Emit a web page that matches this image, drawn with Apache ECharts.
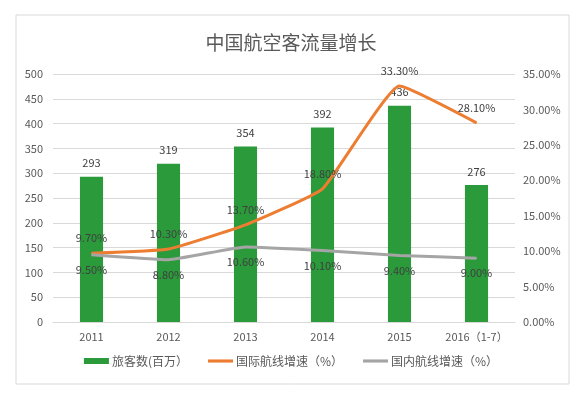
<!DOCTYPE html>
<html>
<head>
<meta charset="utf-8">
<script src="https://cdn.jsdelivr.net/npm/echarts@6/dist/echarts.min.js"></script>
<style>
  html, body { margin: 0; padding: 0; background: #fff; }
  #main { width: 582px; height: 398px; }
</style>
</head>
<body>
<div id="main"></div>
<script>
  // data
  var years = ['2011', '2012', '2013', '2014', '2015', '2016（1-7）'];
  var passengers = [293, 319, 354, 392, 436, 276];
  var intlGrowth = [9.7, 10.3, 13.7, 18.8, 33.3, 28.1];
  var domGrowth = [9.5, 8.8, 10.6, 10.1, 9.4, 9.0];

  var font = '"Noto Sans CJK SC", "Microsoft YaHei", sans-serif';
  var textColor = '#595959';
  var lineIcon = 'path://M0,0 H24 V3 H0 Z';

  var myChart = echarts.init(document.getElementById('main'));

  var pct = function (v) { return Number(v).toFixed(2) + '%'; };

  var option = {
    backgroundColor: '#fff',
    textStyle: { fontFamily: font },
    title: {
      text: '中国航空客流量增长',
      left: 'center',
      top: 28,
      textStyle: { fontFamily: font, fontSize: 19, fontWeight: 'normal', color: textColor }
    },
    graphic: [{
      type: 'rect',
      shape: { x: 16, y: 15, width: 553, height: 369 },
      style: { fill: 'none', stroke: '#d9d9d9', lineWidth: 1 },
      silent: true,
      z: -1
    }],
    legend: {
      bottom: 26,
      left: 'center',
      itemGap: 20,
      itemWidth: 25,
      itemHeight: 6,
      symbolKeepAspect: true,
      textStyle: { fontFamily: font, fontSize: 12, color: textColor, padding: [0, 0, 0, -2] },
      data: [
        { name: '旅客数(百万）', icon: 'rect' },
        { name: '国际航线增速（%）', icon: lineIcon },
        { name: '国内航线增速（%）', icon: lineIcon }
      ]
    },
    grid: { left: 53, right: 67, top: 74, bottom: 76 },
    xAxis: {
      type: 'category',
      data: years,
      axisTick: { show: false },
      axisLine: { lineStyle: { color: '#d9d9d9' } },
      axisLabel: { color: textColor, fontSize: 11, margin: 9, interval: 0 }
    },
    yAxis: [
      {
        type: 'value',
        min: 0, max: 500, interval: 50,
        axisLine: { show: false },
        axisTick: { show: false },
        axisLabel: { color: textColor, fontSize: 11, margin: 10 },
        splitLine: { lineStyle: { color: '#d9d9d9' } }
      },
      {
        type: 'value',
        min: 0, max: 35, interval: 5,
        axisLine: { show: false },
        axisTick: { show: false },
        axisLabel: { color: textColor, fontSize: 11, margin: 8, formatter: pct },
        splitLine: { show: false }
      }
    ],
    series: [
      {
        name: '旅客数(百万）',
        type: 'bar',
        data: passengers,
        barWidth: '30%',
        itemStyle: { color: '#2a9a3b' },
        label: { show: true, position: 'top', color: '#404040', fontSize: 11, distance: 8 }
      },
      {
        name: '国际航线增速（%）',
        type: 'line',
        yAxisIndex: 1,
        data: intlGrowth,
        smooth: 0.12,
        symbol: 'circle',
        symbolSize: 1,
        lineStyle: { color: '#ed7d31', width: 3 },
        itemStyle: { color: '#ed7d31' },
        label: { show: true, position: 'top', color: '#404040', fontSize: 11, distance: 9, formatter: function (p) { return pct(p.value); } }
      },
      {
        name: '国内航线增速（%）',
        type: 'line',
        yAxisIndex: 1,
        data: domGrowth,
        smooth: 0.12,
        symbol: 'circle',
        symbolSize: 1,
        lineStyle: { color: '#a5a5a5', width: 3 },
        itemStyle: { color: '#a5a5a5' },
        label: { show: true, position: 'bottom', color: '#404040', fontSize: 11, distance: 9, formatter: function (p) { return pct(p.value); } }
      }
    ]
  };

  myChart.setOption(option);
</script>
</body>
</html>
